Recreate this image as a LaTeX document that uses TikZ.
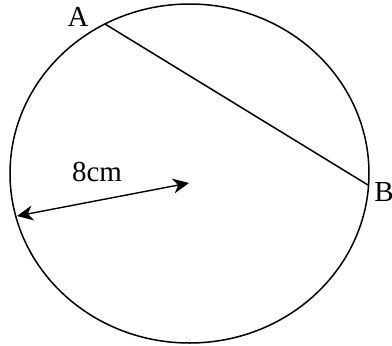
\documentclass[tikz,border=0pt]{standalone}
\usepackage{fontspec}
\setmainfont{Liberation Serif}
\usetikzlibrary{arrows.meta}
\tikzset{lbl/.style={inner sep=0pt,font=\fontsize{14.5}{16}\selectfont},
  rim/.style={line width=0.75pt},
  radius arrow/.style={line width=0.7pt,{Stealth[length=8pt,width=7.5pt,inset=2.5pt]}-{Stealth[length=8pt,width=7.5pt,inset=2.5pt]}}}
\begin{document}
\begin{tikzpicture}[x=0.5pt,y=-0.5pt]
\useasboundingbox (0,0) rectangle (392,345);
% centre and points on the rim
\coordinate (O) at (189.5,173.5);
\coordinate (A) at (105,24); \coordinate (B) at (368,185);
\coordinate (L) at (17,216); \coordinate (C) at (189,183);
\draw[rim] (O) ellipse [x radius=179.5, y radius=169.5];
\draw[rim] (A) -- (B);
\draw[radius arrow] (L) -- (C);
\node[lbl] (a) at (78,17) {A};
\node[lbl] (b) at (384,192) {B};
\node[lbl] (len) at (97,172) {8cm};
\end{tikzpicture}
\end{document}
